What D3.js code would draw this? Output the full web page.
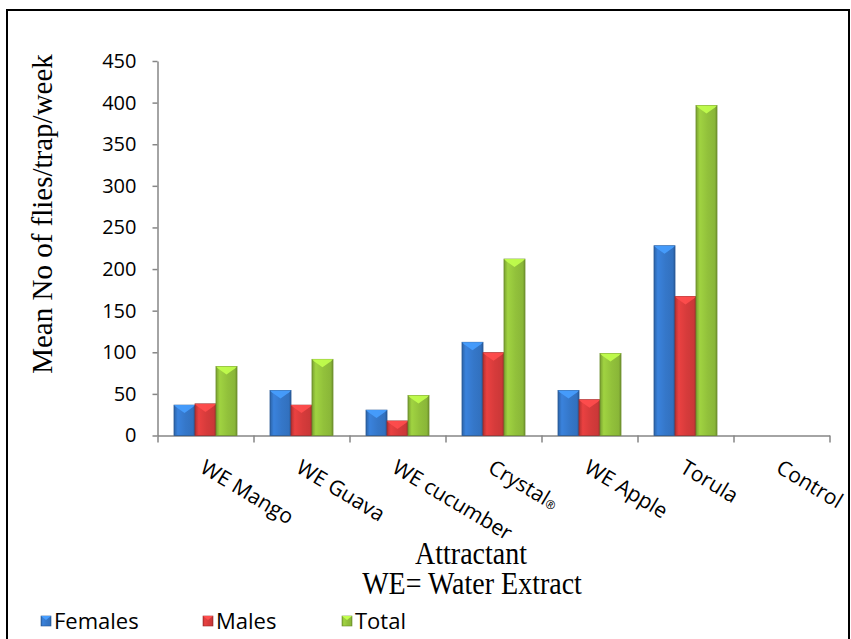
<!DOCTYPE html>
<html>
<head>
<meta charset="utf-8">
<script src="https://cdn.jsdelivr.net/npm/d3@7/dist/d3.min.js"></script>
<style>
  body { margin: 0; background: #fff; }
</style>
</head>
<body>
<div id="chart"></div>
<script>
// data
const categories = ["WE Mango", "WE Guava", "WE cucumber", "Crystal", "WE Apple", "Torula", "Control"];
const seriesNames = ["Females", "Males", "Total"];
const females = [36.5, 54, 30.5, 112, 54, 228, 0];
const males = [38, 36.5, 17.5, 99.5, 43, 167, 0];
const totals = [83, 91.5, 48, 212, 98.5, 396.5, 0];
const yTicks = [0, 50, 100, 150, 200, 250, 300, 350, 400, 450];
const seriesColors = ["#3577c9", "#d63b3b", "#92c13b"];

const seriesValues = [females, males, totals];
const rows = [];
categories.forEach((c, i) => {
  seriesNames.forEach((s, j) => {
    rows.push({ cat: c, series: s, value: seriesValues[j][i] });
  });
});

const width = 851, height = 639;
const svg = d3.select("#chart").append("svg")
  .attr("width", width).attr("height", height);

// outer frame
svg.append("rect")
  .attr("x", 7).attr("y", 10)
  .attr("width", 842).attr("height", 650)
  .attr("fill", "none").attr("stroke", "#000").attr("stroke-width", 2);

// scales
let x = d3.scaleBand().domain(categories).range([157.5, 829.5])
  .paddingInner(0.344).paddingOuter(0.172);
let xs = d3.scaleBand().domain(seriesNames).range([0, x.bandwidth()]);
let y = d3.scaleLinear().domain([0, 450]).range([435.5, 61]);
let color = d3.scaleOrdinal().domain(seriesNames).range(seriesColors);

// gradients for the bevelled bars
const defs = svg.append("defs");
seriesNames.forEach((s) => {
  const c = color(s);
  const g = defs.append("linearGradient").attr("id", "grad-" + s)
    .attr("x1", "0%").attr("x2", "100%").attr("y1", "0%").attr("y2", "0%");
  g.append("stop").attr("offset", "0%").attr("stop-color", d3.color(c).darker(0.5));
  g.append("stop").attr("offset", "18%").attr("stop-color", d3.color(c).brighter(0.25));
  g.append("stop").attr("offset", "55%").attr("stop-color", c);
  g.append("stop").attr("offset", "88%").attr("stop-color", d3.color(c).darker(0.15));
  g.append("stop").attr("offset", "100%").attr("stop-color", d3.color(c).darker(0.7));
});

// axes
const yAxis = d3.axisLeft(y).tickValues(yTicks).tickSize(5).tickSizeOuter(0).tickPadding(16);
const gy = svg.append("g").attr("transform", "translate(157.5,0)").call(yAxis);
gy.select(".domain").attr("stroke", "#868686").attr("stroke-width", 1.5);
gy.selectAll(".tick line").attr("stroke", "#868686").attr("stroke-width", 1.5);
gy.selectAll(".tick text")
  .style("font-family", "'Open Sans', sans-serif")
  .style("font-size", "20px")
  .attr("fill", "#000");

// x axis: tick marks on the category boundaries
let xb = d3.scaleLinear().domain([0, categories.length]).range(x.range());
const xAxis = d3.axisBottom(xb).tickValues(d3.range(categories.length + 1))
  .tickSize(7).tickSizeOuter(0).tickFormat("");
const gx = svg.append("g").attr("transform", "translate(0," + y(0) + ")").call(xAxis);
gx.select(".domain").attr("stroke", "#868686").attr("stroke-width", 1.5);
gx.selectAll(".tick line").attr("stroke", "#868686").attr("stroke-width", 1.5);

// rotated category labels
const labels = svg.append("g").selectAll("text")
  .data(categories).enter().append("text")
  .attr("transform", (d) => "translate(" + (x(d) + x.bandwidth() / 2 + 2) + ",457) rotate(31)")
  .attr("dy", "0.8em")
  .style("font-family", "'Open Sans', sans-serif")
  .style("font-size", "21px")
  .attr("fill", "#000")
  .text((d) => d);
labels.filter((d) => d === "Crystal").append("tspan")
  .style("font-size", "12px").text("®");

// bars
const bars = svg.append("g").selectAll("g.bar")
  .data(rows.filter((d) => d.value > 0)).enter().append("g").attr("class", "bar");
bars.append("rect")
  .attr("x", (d) => x(d.cat) + xs(d.series))
  .attr("y", (d) => y(d.value))
  .attr("width", xs.bandwidth())
  .attr("height", (d) => y(0) - y(d.value))
  .attr("fill", (d) => "url(#grad-" + d.series + ")")
  .attr("stroke", (d) => d3.color(color(d.series)).darker(0.9))
  .attr("stroke-width", 0.8);
// top chevron highlight
bars.append("path")
  .attr("d", (d) => {
    const x0 = x(d.cat) + xs(d.series), w = xs.bandwidth(), y0 = y(d.value);
    return "M" + x0 + "," + y0 + "L" + (x0 + w) + "," + y0 +
      "L" + (x0 + w - 2) + "," + (y0 + 2) + "L" + (x0 + w / 2) + "," + (y0 + 8) +
      "L" + (x0 + 2) + "," + (y0 + 2) + "Z";
  })
  .attr("fill", (d) => d3.color(color(d.series)).brighter(0.8))
  .attr("opacity", 0.9);

// axis titles
svg.append("text")
  .attr("transform", "translate(52,214) rotate(-90)")
  .attr("text-anchor", "middle")
  .style("font-family", "'Liberation Serif', 'Times New Roman', serif")
  .style("font-size", "29px")
  .text("Mean No of flies/trap/week");
svg.append("text")
  .attr("transform", "translate(471,564) scale(1,1.1)")
  .attr("text-anchor", "middle")
  .style("font-family", "'Liberation Serif', 'Times New Roman', serif")
  .style("font-size", "28px")
  .text("Attractant");
svg.append("text")
  .attr("transform", "translate(472,594) scale(1,1.1)")
  .attr("text-anchor", "middle")
  .style("font-family", "'Liberation Serif', 'Times New Roman', serif")
  .style("font-size", "28px")
  .text("WE= Water Extract");

// legend
const legendX = d3.scaleOrdinal().domain(seriesNames).range([41, 203, 342]);
const legend = svg.append("g").selectAll("g")
  .data(seriesNames).enter().append("g")
  .attr("transform", (d) => "translate(" + legendX(d) + ",616)");
legend.append("rect")
  .attr("width", 10).attr("height", 10)
  .attr("fill", (d) => "url(#grad-" + d + ")")
  .attr("stroke", (d) => d3.color(color(d)).darker(0.9))
  .attr("stroke-width", 0.6);
legend.append("path")
  .attr("d", "M0,0L10,0L5,4Z")
  .attr("fill", (d) => d3.color(color(d)).brighter(0.8));
legend.append("text")
  .attr("x", 13).attr("y", 5).attr("dy", "0.36em")
  .style("font-family", "'Open Sans', sans-serif")
  .style("font-size", "22px")
  .attr("fill", "#000")
  .text((d) => d);
</script>
</body>
</html>
